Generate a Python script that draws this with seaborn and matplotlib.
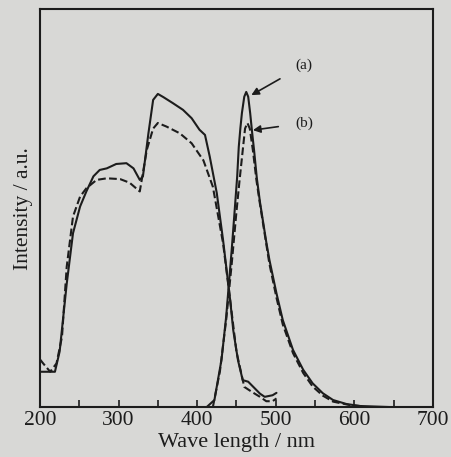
import numpy as np
import pandas as pd
import matplotlib.pyplot as plt
from matplotlib.ticker import MultipleLocator
import seaborn as sns

# excitation spectra (a: solid, b: dashed)
exc_a_x = [200, 219, 225, 234, 242, 251, 259, 268, 276, 285, 297, 310, 319, 327, 331,
           338, 344, 350, 357, 369, 382, 393, 403, 410, 416, 425, 433, 442, 446, 452,
           458, 465, 472, 480, 486, 496, 501]
exc_a_y = [0.089, 0.089, 0.14, 0.31, 0.437, 0.504, 0.542, 0.58, 0.596, 0.60, 0.611, 0.613,
           0.60, 0.571, 0.58, 0.688, 0.772, 0.787, 0.779, 0.764, 0.747, 0.726, 0.697, 0.684,
           0.63, 0.538, 0.42, 0.27, 0.193, 0.118, 0.068, 0.064, 0.05, 0.034, 0.026, 0.03, 0.036]
exc_b_x = [200, 204, 213, 221, 228, 234, 242, 251, 259, 272, 285, 302, 314, 327, 336, 344,
           350, 361, 378, 393, 408, 420, 433, 442, 450, 460, 470, 480, 488, 496, 501]
exc_b_y = [0.12, 0.11, 0.089, 0.11, 0.177, 0.353, 0.479, 0.529, 0.55, 0.571, 0.575, 0.573,
           0.564, 0.542, 0.647, 0.70, 0.714, 0.705, 0.688, 0.663, 0.62, 0.554, 0.412,
           0.27, 0.14, 0.051, 0.038, 0.026, 0.015, 0.015, 0.022]

# emission spectra
em_a_x = [412, 422, 431, 437, 444, 448, 451, 453, 455, 457, 460, 462.5, 465, 467.5, 470,
          472.5, 476, 480, 484, 488, 492, 501, 509, 522, 535, 547, 560, 573, 590, 607,
          650, 700]
em_a_y = [0.0, 0.018, 0.119, 0.228, 0.395, 0.50, 0.58, 0.654, 0.70, 0.739, 0.78, 0.792,
          0.78, 0.739, 0.69, 0.645, 0.575, 0.515, 0.465, 0.415, 0.37, 0.286, 0.219, 0.144,
          0.094, 0.06, 0.035, 0.018, 0.008, 0.003, 0.0, 0.0]
em_b_x = [420, 429, 437, 444, 450, 454, 458.5, 461, 464, 467, 471, 475.5, 480, 484, 488,
          492, 501, 509, 522, 535, 547, 560, 573, 595, 607]
em_b_y = [0.0, 0.09, 0.22, 0.36, 0.49, 0.57, 0.654, 0.70, 0.714, 0.70, 0.645, 0.57,
          0.51, 0.46, 0.41, 0.36, 0.275, 0.208, 0.136, 0.086, 0.052, 0.029, 0.014, 0.005,
          0.003]

sns.set_style("ticks")
plt.rcParams["font.family"] = ["Liberation Serif", "DejaVu Serif"]

bg = "#d8d8d6"
ink = "#1c1c1c"

fig = plt.figure(figsize=(4.51, 4.57), dpi=100, facecolor=bg)
ax = fig.add_axes([0.0887, 0.109, 0.871, 0.871], facecolor=bg)

curves = [(exc_a_x, exc_a_y, "-"), (exc_b_x, exc_b_y, "--"),
          (em_a_x, em_a_y, "-"), (em_b_x, em_b_y, "--")]
for xs, ys, ls in curves:
    df = pd.DataFrame({"wl": xs, "I": ys})
    sns.lineplot(data=df, x="wl", y="I", ax=ax, color=ink, linestyle=ls, lw=1.5)

ax.set_xlim(200, 700)
ax.set_ylim(0, 1.0)
ax.xaxis.set_major_locator(MultipleLocator(100))
ax.xaxis.set_minor_locator(MultipleLocator(50))
ax.tick_params(axis="x", which="both", direction="in", length=5, width=1.2,
               labelsize=15.5, colors=ink, pad=3)
ax.tick_params(axis="y", left=False, labelleft=False)
ax.set_yticks([])
for s in ax.spines.values():
    s.set_color(ink)
    s.set_linewidth(1.5)

ax.set_xlabel("Wave length / nm", fontsize=16, color=ink, labelpad=2)
ax.set_ylabel("Intensity / a.u.", fontsize=15.5, color=ink, labelpad=5)

ax.annotate("(a)", xy=(469, 0.784), xytext=(525, 0.859), fontsize=11, color=ink,
            ha="left", va="center",
            arrowprops=dict(arrowstyle="-|>", color=ink, lw=1.2, shrinkA=10, shrinkB=0))
ax.annotate("(b)", xy=(471, 0.696), xytext=(525, 0.714), fontsize=11, color=ink,
            ha="left", va="center",
            arrowprops=dict(arrowstyle="-|>", color=ink, lw=1.2, shrinkA=10, shrinkB=0))

fig.savefig("out.png", dpi=100, facecolor=bg)
